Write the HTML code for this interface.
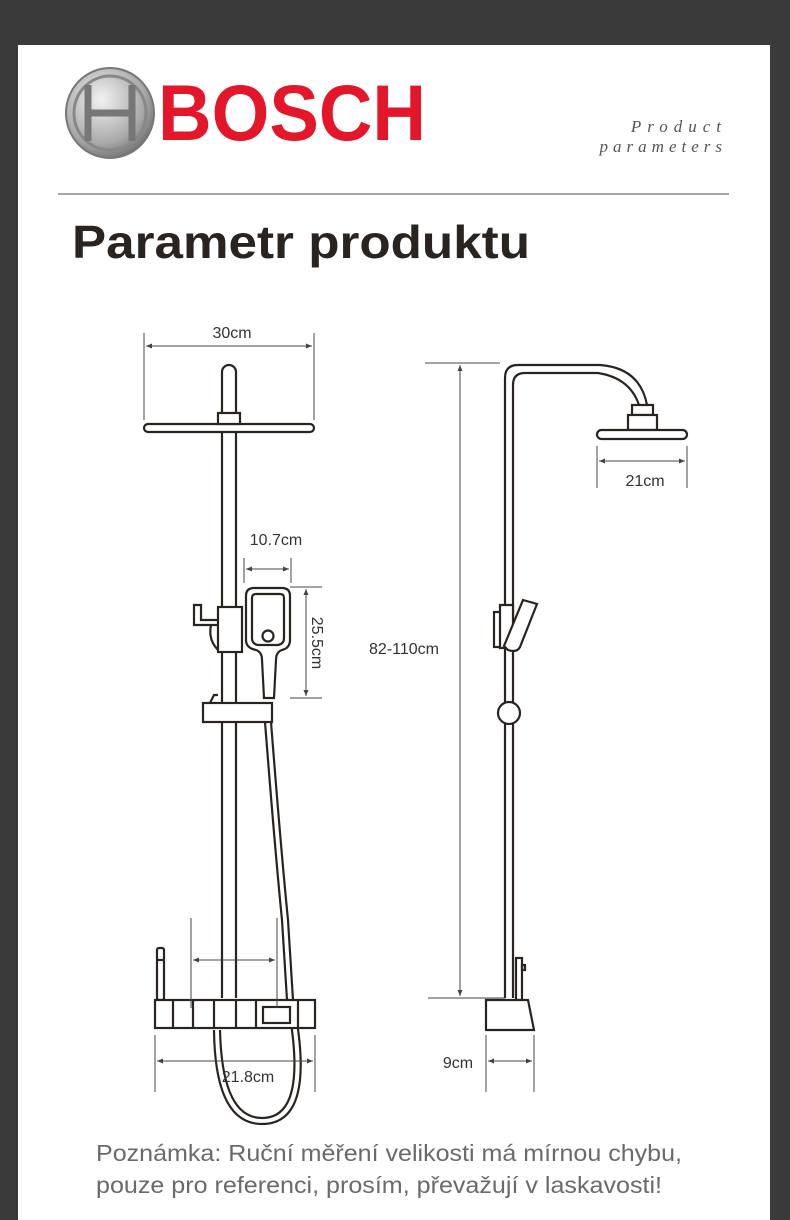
<!DOCTYPE html>
<html><head><meta charset="utf-8"><style>
html,body{margin:0;padding:0;background:#3a3a3a;}
body{width:790px;height:1220px;position:relative;overflow:hidden;font-family:"Liberation Sans",sans-serif;}
</style></head><body>
<svg width="790" height="1220" viewBox="0 0 790 1220" xmlns="http://www.w3.org/2000/svg" style="position:absolute;left:0;top:0">
<rect x="0" y="0" width="790" height="1220" fill="#3a3a3a"/>
<rect x="18" y="45" width="752" height="1175" fill="#fff"/>
<defs><radialGradient id="g" cx="0.4" cy="0.35" r="0.7"><stop offset="0" stop-color="#f2f2f2"/><stop offset="0.7" stop-color="#a8a8a8"/><stop offset="1" stop-color="#6e6e6e"/></radialGradient></defs>
<ellipse cx="110" cy="113" rx="44" ry="45" fill="url(#g)" stroke="#777" stroke-width="2"/>
<ellipse cx="110" cy="113" rx="36" ry="37" fill="none" stroke="#888" stroke-width="3"/>
<path d="M88 85 L88 141 M132 85 L132 141 M88 113 L132 113" stroke="#777" stroke-width="7" fill="none"/>
<text x="158" y="140" font-family="Liberation Sans" font-weight="bold" font-size="79" fill="#e3162a" textLength="268" lengthAdjust="spacingAndGlyphs">BOSCH</text>
<text x="727" y="132" text-anchor="end" font-family="Liberation Serif" font-style="italic" font-size="17" fill="#555" letter-spacing="6">Product</text>
<text x="727" y="152" text-anchor="end" font-family="Liberation Serif" font-style="italic" font-size="17" fill="#555" letter-spacing="5">parameters</text>
<line x1="58" y1="194" x2="729" y2="194" stroke="#888" stroke-width="1.5"/>
<text x="72" y="258" font-family="Liberation Sans" font-weight="bold" font-size="46" fill="#2a2420" textLength="458" lengthAdjust="spacingAndGlyphs">Parametr produktu</text>

<g stroke="#2a2420" fill="none" stroke-width="2.2">
<path d="M222 998 L222 372 A7 7 0 0 1 236 372 L236 998"/>
<rect x="144" y="424" width="170" height="8" rx="4" fill="#fff"/>
<rect x="218" y="413" width="22" height="11" fill="#fff"/>
<path d="M218 625 L194 625 L194 605 L201 605 L201 620 L218 620"/>
<path d="M211 625 Q208 640 218 650"/>
<rect x="218" y="607" width="24" height="45" fill="#fff"/>
<path d="M254 588 L282 588 Q290 588 290 596 L290 640 Q290 648 282 650 Q276 652 276 660 L274 698 L264 698 L262 660 Q262 652 256 650 Q246 648 246 640 L246 596 Q246 588 254 588 Z" fill="#fff"/>
<path d="M256 594 L280 594 Q284 594 284 598 L284 638 Q284 644 278 645 L258 645 Q252 644 252 638 L252 598 Q252 594 256 594 Z"/>
<circle cx="268" cy="636" r="5.5"/>
<path d="M265 722 Q275 850 282 920 L287 1000 Q310 1118 262 1118 Q222 1118 220 1030"/>
<path d="M271 722 Q281 850 288 920 L293 1000 Q318 1124 262 1124 Q215 1124 214 1030"/>
<rect x="203" y="703" width="69" height="19" fill="#fff"/>
<path d="M210 703 L214 695 L218 695"/>
<rect x="157" y="948" width="7" height="52" rx="2" fill="#fff"/>
<line x1="157" y1="960" x2="164" y2="960"/>
<rect x="155" y="1000" width="160" height="28" fill="#fff"/>
<path d="M173 1000 V1028 M193 1000 V1028 M214 1000 V1028 M236 1000 V1028 M256 1000 V1028 M298 1000 V1028"/>
<rect x="263" y="1007" width="27" height="16"/>

<path d="M505 998 L505 378 Q505 365 518 365 L600 365 Q640 368 647 405"/>
<path d="M513 998 L513 385 Q513 373 525 373 L598 373 Q630 378 639 405"/>
<rect x="632" y="405" width="21" height="10" fill="#fff"/>
<rect x="628" y="415" width="29" height="15" fill="#fff"/>
<rect x="597" y="430" width="90" height="9" rx="4.5" fill="#fff"/>
<rect x="494" y="612" width="7" height="35" fill="#fff"/>
<path d="M500 605 L513 605 L513 648 L500 648 Z" fill="#fff"/>
<path d="M523 600 L537 604 L520 647 Q517 653 508 650 L504 646 Z" fill="#fff"/>
<circle cx="509" cy="713" r="11" fill="#fff"/>
<rect x="516" y="958" width="6" height="42" fill="#fff"/>
<rect x="522" y="965" width="3" height="5"/>
<path d="M486 1000 L528 1000 L534 1030 L486 1030 Z" fill="#fff"/>
</g>

<g stroke="#444" stroke-width="1" fill="none">
<path d="M144 333 V420 M314 333 V420 M146 346 H312"/>
<path d="M244 558 V583 M291 558 V583 M246 569 H289"/>
<path d="M290 587 H322 M290 698 H322 M306 589 V696"/>
<path d="M191 918 V1008 M277 918 V1008 M193 960 H275"/>
<path d="M155 1035 V1092 M315 1035 V1092 M157 1061 H313"/>
<path d="M597 446 V488 M687 446 V488 M599 461 H685"/>
<path d="M425 363 H500 M428 998 H505 M460 365 V996"/>
<path d="M486 1035 V1092 M534 1035 V1092 M488 1061 H532"/>
</g>
<g fill="#444">
<path d="M146 346 l6 -2.5 v5z M312 346 l-6 -2.5 v5z"/>
<path d="M246 569 l6 -2.5 v5z M289 569 l-6 -2.5 v5z"/>
<path d="M306 589 l-2.5 6 h5z M306 696 l-2.5 -6 h5z"/>
<path d="M193 960 l6 -2.5 v5z M275 960 l-6 -2.5 v5z"/>
<path d="M157 1061 l6 -2.5 v5z M313 1061 l-6 -2.5 v5z"/>
<path d="M599 461 l6 -2.5 v5z M685 461 l-6 -2.5 v5z"/>
<path d="M460 365 l-2.5 6 h5z M460 996 l-2.5 -6 h5z"/>
<path d="M488 1061 l6 -2.5 v5z M532 1061 l-6 -2.5 v5z"/>
</g>
<g font-family="Liberation Sans" font-size="16" fill="#333" text-anchor="middle">
<text x="232" y="338">30cm</text>
<text x="276" y="545">10.7cm</text>
<text x="248" y="1082">21.8cm</text>
<text x="645" y="486">21cm</text>
<text x="404" y="654">82-110cm</text>
<text x="458" y="1068">9cm</text>
<text transform="translate(312 643) rotate(90)">25.5cm</text>
</g>
<g font-family="Liberation Sans" font-size="23" fill="#6a6a6a">
<text x="96" y="1161" textLength="586" lengthAdjust="spacingAndGlyphs">Poznámka: Ruční měření velikosti má mírnou chybu,</text>
<text x="96" y="1193" textLength="566" lengthAdjust="spacingAndGlyphs">pouze pro referenci, prosím, převažují v laskavosti!</text>
</g>
</svg>
</body></html>
